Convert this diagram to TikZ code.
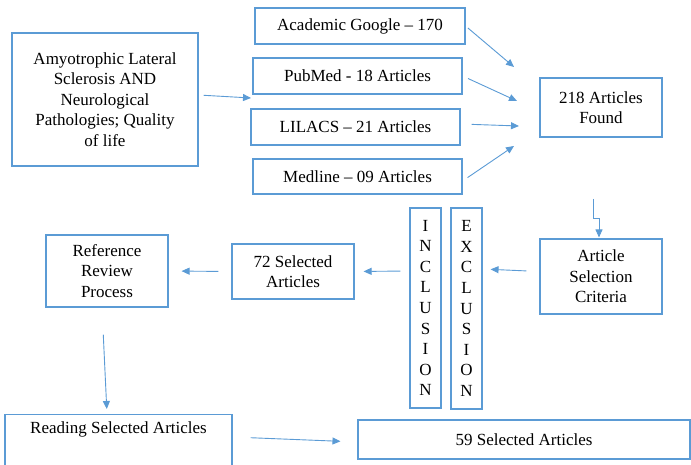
\documentclass[tikz,border=0pt]{standalone}
\usepackage{fontspec}
\setmainfont{Liberation Serif}
\newfontfamily\boxfont{Liberation Serif}
\usepackage{xcolor}
\usetikzlibrary{arrows.meta,positioning,calc}
\definecolor{wordblue}{RGB}{91,155,213}

\begin{document}
\begin{tikzpicture}[x=1pt,y=-1pt,
    every node/.style={font=\boxfont\fontsize{17}{20.6}\selectfont,align=center},
    box/.style={draw=wordblue,line width=1.1pt},
    boxsize/.style 2 args={minimum width=#1,minimum height=#2},
    flow/.style={draw=wordblue,line width=0.9pt,-{Triangle[length=8pt,width=7pt]}}
    ]
    \clip (0,0) rectangle (691,465); %page of the reference

    %search terms and the data bases:
    \node[box,boxsize={186}{133}] (terms) at (105,99.5)
        {Amyotrophic Lateral\\Sclerosis AND\\Neurological\\Pathologies; Quality\\of life};
    \node[box,boxsize={210}{36}] (google) at (360,26) {Academic Google – 170};
    \node[box,boxsize={209}{36}] (pubmed) at (357.5,76) {PubMed - 18 Articles};
    \node[box,boxsize={209}{36}] (lilacs) at (355.5,127) {LILACS – 21 Articles};
    \node[box,boxsize={209}{35}] (medline) at (357.5,176.5) {Medline – 09 Articles};
    \node[box,boxsize={122}{59}] (found) at (601,107.5) {218 Articles\\Found};

    %selection:
    \node[box,boxsize={122}{75}] (criteria) at (601,276.5) {Article\\Selection\\Criteria};
    \node[box,boxsize={31}{201}] (excl) at (466.5,308.5) {E\\X\\C\\L\\U\\S\\I\\O\\N};
    \node[box,boxsize={31}{200}] (incl) at (425.5,308) {I\\N\\C\\L\\U\\S\\I\\O\\N};
    \node[box,boxsize={122}{55}] (sel72) at (293,271.5) {72 Selected\\Articles};
    \node[box,boxsize={122}{72}] (review) at (107,271) {Reference\\Review\\Process};

    %reading, cut by the lower border:
    \node[box,minimum width=227,anchor=north,text height=12pt,text depth=45pt,
        inner ysep=7pt] (reading) at (118.5,414) {Reading Selected Articles};
    \node[box,boxsize={332}{39}] (sel59) at (524,439.5) {59 Selected Articles};

    %free ends of the arrows:
    \coordinate (groupin) at (251,98);
    \coordinate (googlein) at (514,67);
    \coordinate (pubmedin) at (517,101);
    \coordinate (lilacsin) at (519,126);
    \coordinate (medlinein) at (514,146);
    \coordinate (foundout) at (593.5,199);

    %putting arrows:
    \draw[flow,shorten <=5pt] ([yshift=4.5pt]terms.east) -- (groupin);
    \draw[flow,shorten <=3pt] (google.east) -- (googlein);
    \draw[flow,shorten <=6pt] (pubmed.east) -- (pubmedin);
    \draw[flow,shorten <=11pt] ([yshift=3pt]lilacs.east) -- (lilacsin);
    \draw[flow,shorten <=6pt] ([yshift=-4.5pt]medline.east) -- (medlinein);
    \draw[flow,shorten >=1pt] (foundout) -- ++(0,19) -| ([xshift=-2pt]criteria.north);
    \draw[flow,shorten <=13pt,shorten >=8pt] ([yshift=5pt]criteria.west)
        -- ([yshift=39.5pt]excl.east);
    \draw[flow,shorten <=9pt,shorten >=9pt] ([yshift=37pt]incl.west) -- (sel72.east);
    \draw[flow,shorten <=13pt,shorten >=13pt] (sel72.west) -- (review.east);
    \draw[flow,shorten <=27pt,shorten >=5pt] ([xshift=-5pt]review.south)
        -- ([xshift=-11.5pt]reading.north);
    \draw[flow,shorten <=18pt,shorten >=17pt] ([yshift=-23pt]reading.north east)
        -- ([yshift=-2.5pt]sel59.west);
\end{tikzpicture}
\end{document}
